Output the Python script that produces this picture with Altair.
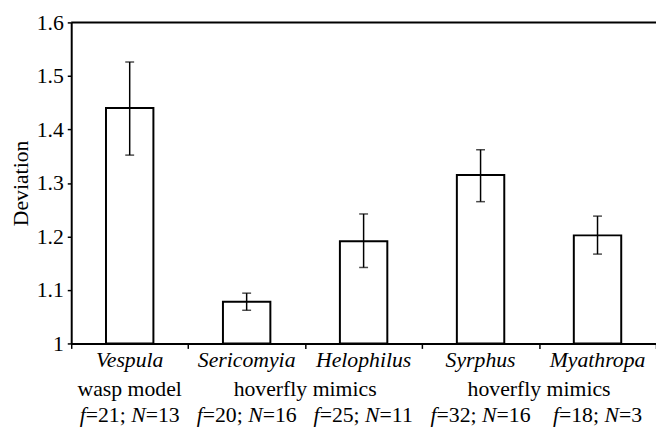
import altair as alt
import pandas as pd

# ---- data ----
species = ["Vespula", "Sericomyia", "Helophilus", "Syrphus", "Myathropa"]
means = [1.440, 1.078, 1.191, 1.315, 1.202]
err_low = [1.352, 1.062, 1.142, 1.265, 1.167]
err_high = [1.526, 1.094, 1.242, 1.362, 1.238]
f_values = [21, 20, 25, 32, 18]
n_values = [13, 16, 11, 16, 3]
group_labels = ["wasp model", "hoverfly mimics", "hoverfly mimics"]
group_pos = [0.5, 2.0, 4.0]          # in category units (band centres / boundaries)
y_ticks = [1, 1.1, 1.2, 1.3, 1.4, 1.5, 1.6]

# ---- layout ----
FONT = "Liberation Serif"
FS = 22
W, H = 592, 325
STEP = W / len(species)
LINE1, LINE2, LINE3 = 349, 378, 405   # baselines below plot top

bars_df = pd.DataFrame({"species": species, "mean": means, "lo": err_low, "hi": err_high})

x_axis = alt.Axis(title=None, labels=False, tickBand="extent", tickSize=5,
                  tickWidth=1.5, tickColor="black", domainColor="black",
                  domainWidth=2, grid=False)
y_axis = alt.Axis(title="Deviation", values=y_ticks, format="~g", tickSize=4,
                  tickWidth=1.5, tickColor="black", domainColor="black",
                  domainWidth=2, labelFont=FONT, labelFontSize=FS,
                  labelColor="black", labelPadding=4, titleFont=FONT,
                  titleFontSize=FS, titleFontWeight="normal", titleColor="black",
                  titlePadding=4, grid=False)
y_scale = alt.Scale(domain=[1, 1.6], zero=False, nice=False)
xs = alt.X("species:N", sort=species, scale=alt.Scale(paddingInner=0, paddingOuter=0),
           axis=x_axis)

base = alt.Chart(bars_df)
bars = base.mark_bar(size=48, fill="white", stroke="black", strokeWidth=2).encode(
    x=xs, y=alt.Y("mean:Q", scale=y_scale, axis=y_axis), y2=alt.datum(1.0))
err_rule = base.mark_rule(color="black", strokeWidth=1.5).encode(
    x=xs, y=alt.Y("lo:Q", scale=y_scale, axis=y_axis), y2="hi:Q")
cap_lo = base.mark_tick(color="black", size=9, thickness=1.5, orient="horizontal").encode(
    x=xs, y=alt.Y("lo:Q", scale=y_scale, axis=y_axis))
cap_hi = base.mark_tick(color="black", size=9, thickness=1.5, orient="horizontal").encode(
    x=xs, y=alt.Y("hi:Q", scale=y_scale, axis=y_axis))
top_line = alt.Chart(pd.DataFrame({"v": [1.6]})).mark_rule(color="black", strokeWidth=2).encode(
    y=alt.Y("v:Q", scale=y_scale, axis=y_axis))

data_layer = alt.layer(bars, err_rule, cap_lo, cap_hi, top_line)

# ---- category label lines ----
xpos = alt.X("pos:Q", scale=alt.Scale(domain=[0, len(species)], nice=False, zero=False), axis=None)

line1_df = pd.DataFrame({"pos": [i + 0.5 for i in range(len(species))], "text": species})
line1 = alt.Chart(line1_df).mark_text(font=FONT, fontSize=FS, fontStyle="italic",
                                      color="black", align="center", baseline="alphabetic").encode(
    x=xpos, y=alt.value(LINE1), text="text:N")

line2_df = pd.DataFrame({"pos": group_pos, "text": group_labels})
line2 = alt.Chart(line2_df).mark_text(font=FONT, fontSize=FS, color="black", align="center",
                                      baseline="alphabetic").encode(
    x=xpos, y=alt.value(LINE2), text="text:N")

# mixed italic / roman pieces "f=21; N=13"
em = {c: 0.5 for c in "0123456789"}
em.update({"=": 0.564, ";": 0.278, " ": 0.25})
em_it = {"f": 0.278, "N": 0.667}

def width(t, italic):
    table = em_it if italic else em
    return sum(table.get(c, 0.5) for c in t) * FS

rows = []
for i, (f, n) in enumerate(zip(f_values, n_values)):
    pieces = [("f", True), (f"={f};", False), ("N", True), (f"={n}", False)]
    widths = [width("f", True), width(f"={f}; ", False), width("N", True), width(f"={n}", False)]
    x = -sum(widths) / 2
    for (t, it), w in zip(pieces, widths):
        rows.append({"pos": i + 0.5 + x / STEP, "text": t, "style": "italic" if it else "normal"})
        x += w
line3_df = pd.DataFrame(rows)
line3_it = alt.Chart(line3_df[line3_df["style"] == "italic"]).mark_text(
    font=FONT, fontSize=FS, fontStyle="italic", color="black", align="left",
    baseline="alphabetic").encode(x=xpos, y=alt.value(LINE3), text="text:N")
line3_rm = alt.Chart(line3_df[line3_df["style"] == "normal"]).mark_text(
    font=FONT, fontSize=FS, color="black", align="left",
    baseline="alphabetic").encode(x=xpos, y=alt.value(LINE3), text="text:N")

chart = alt.layer(data_layer, line1, line2, line3_it, line3_rm).resolve_scale(
    x="independent"
).properties(
    width=W, height=H,
    autosize=alt.AutoSizeParams(type="none"),
    padding={"left": 64, "top": 12, "right": 0, "bottom": 83},
    background="white",
).configure_view(stroke=None).configure_axis(
    titleFont=FONT, titleFontSize=FS, titleFontWeight="normal",
    labelFont=FONT, labelFontSize=FS
).configure_text(font=FONT)

chart.save("out.html", embed_options={"renderer": "svg", "actions": False})
